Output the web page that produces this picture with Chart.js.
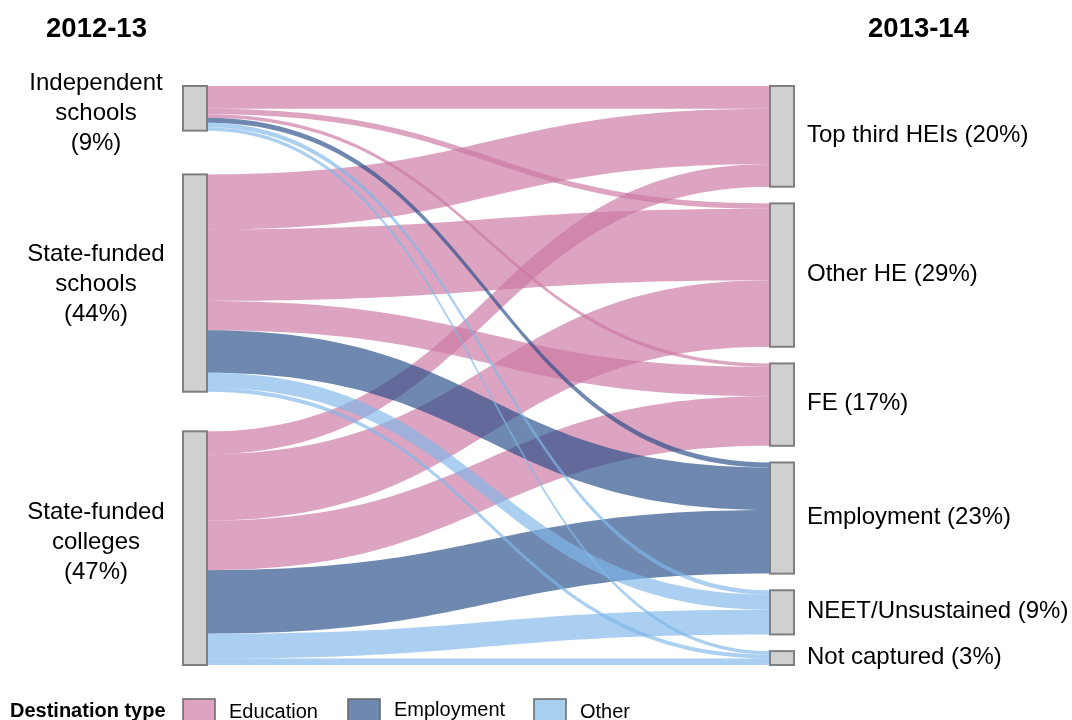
<!DOCTYPE html>
<html>
<head>
<meta charset="utf-8">
<script src="https://cdn.jsdelivr.net/npm/chart.js@4.4.1/dist/chart.umd.min.js"></script>
<style>
  html, body { margin: 0; padding: 0; background: #ffffff; }
  #wrap { width: 1072px; height: 720px; position: relative; }
</style>
</head>
<body>
<div id="wrap"><canvas id="c"></canvas></div>
<script>
// ---------- DATA ----------
const columnTitles = ['2012-13', '2013-14'];
const sourceLabels = [
  ['Independent', 'schools', '(9%)'],
  ['State-funded', 'schools', '(44%)'],
  ['State-funded', 'colleges', '(47%)']
];
const targetLabels = [
  'Top third HEIs (20%)',
  'Other HE (29%)',
  'FE (17%)',
  'Employment (23%)',
  'NEET/Unsustained (9%)',
  'Not captured (3%)'
];
const targetTypes = ['Education', 'Education', 'Education', 'Employment', 'Other', 'Other'];
const destinationTypes = ['Education', 'Employment', 'Other'];
// flows (percentage of cohort) from each source to each target, in target order
const independentFlows  = [4.6, 1.1, 0.7, 1.0, 0.9, 0.7];
const stateSchoolFlows  = [11.1, 14.4, 5.9, 8.6, 3.0, 0.8];
const stateCollegeFlows = [4.6, 13.4, 10.0, 12.8, 5.0, 1.3];
const flowsBySource = [independentFlows, stateSchoolFlows, stateCollegeFlows];

// ---------- STYLE / LAYOUT ----------
const typeFlowColors = {
  Education:  'rgba(203,119,161,0.67)',
  Employment: 'rgba(39,78,137,0.67)',
  Other:      'rgba(128,184,233,0.67)'
};
const typeLegendColors = {
  Education:  'rgb(220,164,192)',
  Employment: 'rgb(110,136,176)',
  Other:      'rgb(170,208,240)'
};
const NODE_W = 24;
const Y_MAX = 116.7;
const FONT = '"Liberation Sans", Arial, Helvetica, sans-serif';
const leftGapShares = [1.05, 0.95];
const leftLabelDy = [5, 1, -6];

const sankeyPlugin = {
  id: 'sankey',
  afterDraw(chart) {
    const ctx = chart.ctx;
    const xs = chart.scales.x, ys = chart.scales.y;
    const nS = flowsBySource.length, nT = targetLabels.length;
    const srcTotals = flowsBySource.map(f => f.reduce((a, b) => a + b, 0));
    const tgtTotals = targetLabels.map((_, t) => flowsBySource.reduce((a, f) => a + f[t], 0));
    const sumS = srcTotals.reduce((a, b) => a + b, 0);
    const sumT = tgtTotals.reduce((a, b) => a + b, 0);
    const gapS = (Y_MAX - sumS) / (nS - 1);
    const gapT = (Y_MAX - sumT) / (nT - 1);
    const srcStart = []; let acc = 0;
    for (let i = 0; i < nS; i++) { srcStart.push(acc); acc += srcTotals[i] + gapS * (leftGapShares[i] || 1); }
    const tgtStart = []; acc = 0;
    for (let i = 0; i < nT; i++) { tgtStart.push(acc); acc += tgtTotals[i] + gapT; }

    const xL = xs.getPixelForValue(0), xR = xs.getPixelForValue(1);
    const x0 = xL + NODE_W, x1 = xR - NODE_W;
    const xm = (x0 + x1) / 2;

    const srcOff = [];
    for (let s = 0; s < nS; s++) {
      const o = []; let a = srcStart[s];
      for (let t = 0; t < nT; t++) { o.push(a); a += flowsBySource[s][t]; }
      srcOff.push(o);
    }
    const tgtOff = [];
    for (let t = 0; t < nT; t++) {
      const o = []; let a = tgtStart[t];
      for (let s = 0; s < nS; s++) { o.push(a); a += flowsBySource[s][t]; }
      tgtOff.push(o);
    }

    ctx.save();
    for (let t = 0; t < nT; t++) {
      for (let s = 0; s < nS; s++) {
        const v = flowsBySource[s][t];
        if (!v) continue;
        const ya0 = ys.getPixelForValue(srcOff[s][t]);
        const ya1 = ys.getPixelForValue(srcOff[s][t] + v);
        const yb0 = ys.getPixelForValue(tgtOff[t][s]);
        const yb1 = ys.getPixelForValue(tgtOff[t][s] + v);
        ctx.beginPath();
        ctx.moveTo(x0, ya0);
        ctx.bezierCurveTo(xm, ya0, xm, yb0, x1, yb0);
        ctx.lineTo(x1, yb1);
        ctx.bezierCurveTo(xm, yb1, xm, ya1, x0, ya1);
        ctx.closePath();
        ctx.fillStyle = typeFlowColors[targetTypes[t]];
        ctx.fill();
      }
    }
    ctx.fillStyle = '#d0d0d0';
    ctx.strokeStyle = '#7f7f7f';
    ctx.lineWidth = 2;
    for (let s = 0; s < nS; s++) {
      const y0 = ys.getPixelForValue(srcStart[s]), y1 = ys.getPixelForValue(srcStart[s] + srcTotals[s]);
      ctx.fillRect(xL, y0, NODE_W, y1 - y0);
      ctx.strokeRect(xL, y0, NODE_W, y1 - y0);
    }
    for (let t = 0; t < nT; t++) {
      const y0 = ys.getPixelForValue(tgtStart[t]), y1 = ys.getPixelForValue(tgtStart[t] + tgtTotals[t]);
      ctx.fillRect(xR - NODE_W, y0, NODE_W, y1 - y0);
      ctx.strokeRect(xR - NODE_W, y0, NODE_W, y1 - y0);
    }
    ctx.fillStyle = '#000';
    ctx.textBaseline = 'middle';
    ctx.textAlign = 'center';
    ctx.font = '24px ' + FONT;
    const lineH = 30;
    for (let s = 0; s < nS; s++) {
      const cy = ys.getPixelForValue(srcStart[s] + srcTotals[s] / 2) + leftLabelDy[s];
      const lines = sourceLabels[s];
      lines.forEach((ln, i) => {
        ctx.fillText(ln, 96, cy + (i - (lines.length - 1) / 2) * lineH);
      });
    }
    ctx.textAlign = 'left';
    ctx.font = '24px ' + FONT;
    for (let t = 0; t < nT; t++) {
      const cy = ys.getPixelForValue(tgtStart[t] + tgtTotals[t] / 2) - 1;
      ctx.fillText(targetLabels[t], xR + 13, cy);
    }
    ctx.textAlign = 'center';
    ctx.font = 'bold 27.5px ' + FONT;
    ctx.fillText(columnTitles[0], 96.5, 29);
    ctx.fillText(columnTitles[1], 918.5, 29);

    ctx.textAlign = 'left';
    ctx.textBaseline = 'alphabetic';
    ctx.font = 'bold 20px ' + FONT;
    ctx.fillText('Destination type', 10, 717);
    ctx.font = '20px ' + FONT;
    const legendX = [183, 348, 534];
    destinationTypes.forEach((d, i) => {
      ctx.fillStyle = typeLegendColors[d];
      ctx.fillRect(legendX[i], 699, 32, 24);
      ctx.strokeStyle = '#666';
      ctx.lineWidth = 1.5;
      ctx.strokeRect(legendX[i], 699, 32, 24);
      ctx.fillStyle = '#000';
      ctx.fillText(d, legendX[i] + 46, i === 1 ? 716 : 718);
    });
    ctx.restore();
  }
};

new Chart(document.getElementById('c'), {
  type: 'scatter',
  data: { datasets: [{ data: [] }] },
  options: {
    responsive: true,
    maintainAspectRatio: false,
    animation: false,
    layout: { padding: { left: 183, right: 278, top: 86, bottom: 55 } },
    scales: {
      x: { type: 'linear', min: 0, max: 1, display: false },
      y: { type: 'linear', min: 0, max: Y_MAX, reverse: true, display: false }
    },
    plugins: { legend: { display: false }, tooltip: { enabled: false } }
  },
  plugins: [sankeyPlugin]
});
</script>
</body>
</html>
